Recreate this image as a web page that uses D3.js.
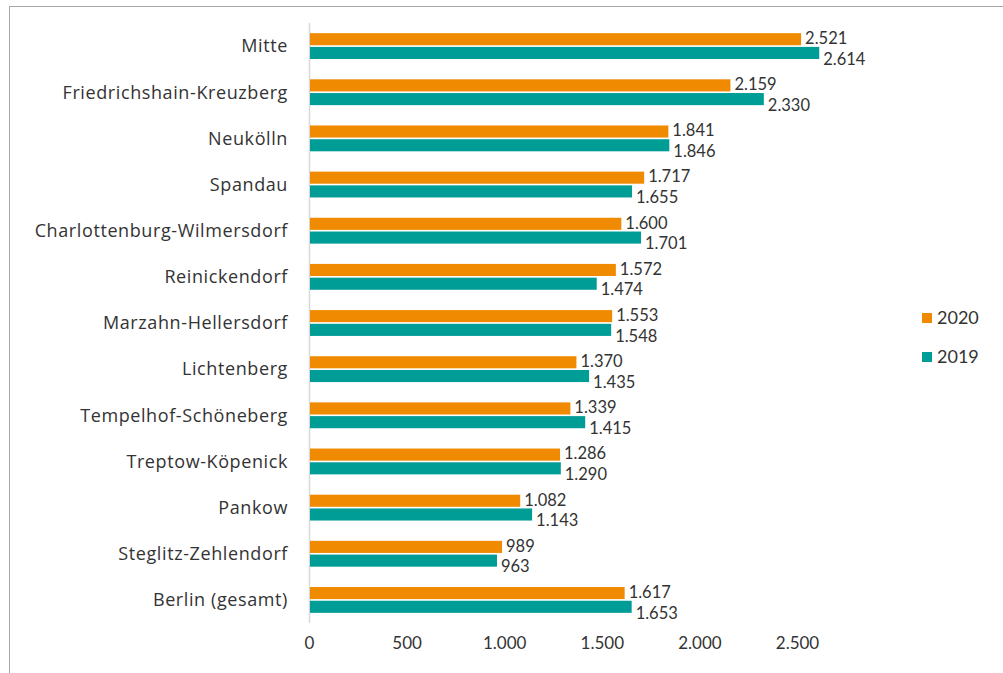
<!DOCTYPE html>
<html><head><meta charset="utf-8">
<script src="https://cdn.jsdelivr.net/npm/d3@7/dist/d3.min.js"></script>
<style>
body{margin:0;background:#fff;}
text{font-family:Lato, "Noto Sans", sans-serif;fill:#333;}
text.cat{font-family:"Open Sans", "Noto Sans", sans-serif;letter-spacing:0.6px;}
</style></head>
<body><svg id="c" width="1003" height="673"></svg>
<script>
const categories = ["Mitte","Friedrichshain-Kreuzberg","Neukölln","Spandau","Charlottenburg-Wilmersdorf","Reinickendorf","Marzahn-Hellersdorf","Lichtenberg","Tempelhof-Schöneberg","Treptow-Köpenick","Pankow","Steglitz-Zehlendorf","Berlin (gesamt)"];
const values2020 = [2521,2159,1841,1717,1600,1572,1553,1370,1339,1286,1082,989,1617];
const values2019 = [2614,2330,1846,1655,1701,1474,1548,1435,1415,1290,1143,963,1653];
const seriesNames = ["2020","2019"];
const seriesColors = ["#F08A00","#009C96"];
const xTicks = [0,500,1000,1500,2000,2500];

const svg = d3.select("#c");
const loc = d3.formatLocale({decimal:",",thousands:".",grouping:[3],currency:["","€"]});
const fmt = loc.format(",d");

// frame
svg.append("rect").attr("x",9.5).attr("y",6.5).attr("width",1100).attr("height",700)
  .attr("fill","none").attr("stroke","#a6a6a6").attr("stroke-width",1);

const x = d3.scaleLinear().domain([0,2500]).range([309,797]);
const y = d3.scaleBand().domain(categories).range([23,623]).paddingInner(0.44).paddingOuter(0.22);
const y2 = d3.scaleBand().domain(seriesNames).range([0,y.bandwidth()]).paddingInner(0.12);

// axis line
svg.append("line").attr("x1",309.5).attr("x2",309.5).attr("y1",23).attr("y2",623)
  .attr("stroke","#d9d9d9").attr("stroke-width",1.5);

const data = categories.map((c,i)=>({c, v:[values2020[i],values2019[i]]}));
const g = svg.append("g");
data.forEach(d=>{
  seriesNames.forEach((s,j)=>{
    const yy = y(d.c)+y2(s);
    g.append("rect").attr("x",x(0)+1).attr("y",yy).attr("width",x(d.v[j])-x(0)-1).attr("height",y2.bandwidth())
      .attr("fill",seriesColors[j]);
    g.append("text").attr("x",x(d.v[j])+4).attr("y",yy+y2.bandwidth()/2 + (j===0?-1:6))
      .attr("dy","0.35em").attr("font-size",16.5).text(fmt(d.v[j]));
  });
  svg.append("text").attr("class","cat").attr("x",288).attr("y",y(d.c)+y.bandwidth()/2).attr("dy","0.35em")
    .attr("text-anchor","end").attr("font-size",18).text(d.c);
});

// x tick labels
const xa = svg.append("g").attr("transform","translate(0,649)")
  .call(d3.axisBottom(x).tickValues(xTicks).tickFormat(fmt).tickSize(0).tickPadding(0));
xa.select(".domain").remove();
xa.selectAll("text").attr("font-size",17).attr("fill","#333").attr("font-family","Lato, 'Noto Sans', sans-serif").attr("dy","0");

// legend
seriesNames.forEach((s,j)=>{
  const ly = 318 + j*39;
  svg.append("rect").attr("x",922).attr("y",ly-5).attr("width",10).attr("height",10).attr("fill",seriesColors[j]);
  svg.append("text").attr("x",937).attr("y",ly).attr("dy","0.35em").attr("font-size",18).text(s);
});
</script></body></html>
